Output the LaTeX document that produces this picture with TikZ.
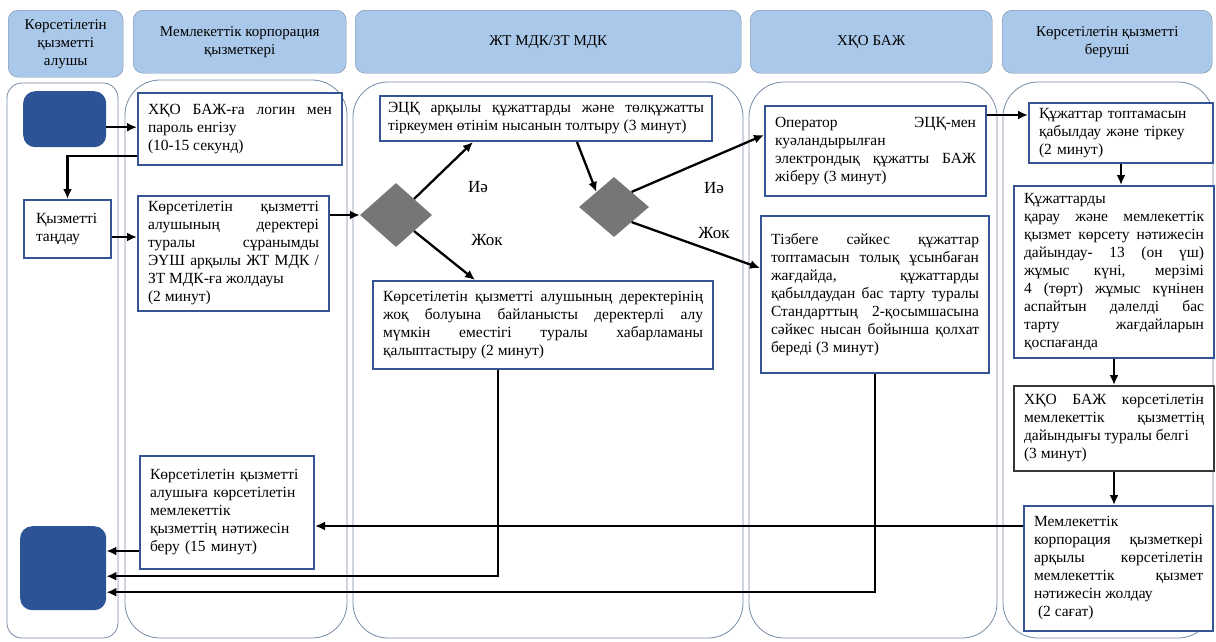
\documentclass[tikz,border=0pt]{standalone}
\usepackage{fontspec}
\setmainfont{Liberation Serif}
\usepackage{tikz}
\usetikzlibrary{shapes.geometric, arrows.meta}
\definecolor{headblue}{RGB}{170,201,234}
\definecolor{laneline}{RGB}{118,138,164}
\definecolor{boxblue}{RGB}{52,84,150}
\definecolor{termblue}{RGB}{44,83,150}
\definecolor{choicegray}{RGB}{118,118,118}
\definecolor{boxgray}{RGB}{55,55,55}

\begin{document}
\begin{tikzpicture}[x=1pt, y=-1pt, >={Latex[length=10pt,width=9pt]},
    head/.style={draw=laneline, fill=headblue, rounded corners=10pt, anchor=north west, align=center, inner sep=2pt, font=\fontsize{15}{18}\selectfont},
    lane/.style={draw=laneline, line width=0.8pt},
    stepbox/.style={draw=boxblue, fill=white, line width=2pt, anchor=north west, align=justify, inner xsep=10pt, inner ysep=4pt, font=\fontsize{15.5}{18}\selectfont},
    terminal/.style={fill=termblue, rounded corners=12pt, anchor=north west},
    choice/.style={diamond, fill=choicegray, inner sep=0pt},
    answer/.style={font=\fontsize{17}{18}\selectfont},
    flow/.style={->, line width=2.3pt}]
    \useasboundingbox (0,0) rectangle (1216,641);
    % swimlanes
    \draw[lane, rounded corners=15pt] (7,83) rectangle (118,638);
    \draw[lane, rounded corners=35pt] (125,80) rectangle (347,638);
    \draw[lane, rounded corners=35pt] (353,82) rectangle (743,638);
    \draw[lane, rounded corners=35pt] (749,82) rectangle (997,638);
    \draw[lane, rounded corners=35pt] (1003,82) rectangle (1213,638);
    \node[head, minimum width=115pt, minimum height=67pt] (h1) at (8,10) {Көрсетілетін\\қызметті\\алушы};
    \node[head, minimum width=213pt, minimum height=63pt] (h2) at (133,10) {Мемлекеттік корпорация\\қызметкері};
    \node[head, minimum width=386pt, minimum height=63pt] (h3) at (355,10) {ЖТ МДК/ЗТ МДК};
    \node[head, minimum width=242pt, minimum height=63pt] (h4) at (750,10) {ХҚО БАЖ};
    \node[head, minimum width=210pt, minimum height=63pt] (h5) at (1002,10) {Көрсетілетін қызметті\\беруші};
    % lane 1
    \node[terminal, minimum width=83pt, minimum height=56pt] (10) at (23,91) {};
    \node[stepbox, align=left, inner xsep=12pt, minimum width=87pt, minimum height=58pt, text width=63pt] (11) at (23,199) {Қызметті\\таңдау};
    \node[terminal, minimum width=86pt, minimum height=84pt] (12) at (20,526) {};
    % lane 2
    \node[stepbox, minimum width=204pt, minimum height=72pt, text width=184pt] (20) at (137,92) {ХҚО БАЖ-ға логин мен\linebreak пароль енгізу\\(10-15 секунд)};
    \node[stepbox, minimum width=191pt, minimum height=115pt, text width=171pt] (21) at (137,195) {Көрсетілетін қызметті\linebreak алушының деректері\linebreak туралы сұранымды\linebreak ЭҮШ арқылы ЖТ МДК /\linebreak ЗТ МДК-ға жолдауы\\(2 минут)};
    \node[stepbox, align=left, minimum width=174pt, minimum height=113pt, text width=154pt] (22) at (139,455) {Көрсетілетін қызметті\\алушыға көрсетілетін\\мемлекеттік\\қызметтің нәтижесін\\беру (15 минут)};
    % lane 3
    \node[stepbox, inner xsep=8pt, minimum width=332pt, minimum height=45pt, text width=316pt] (30) at (379,95) {ЭЦҚ арқылы құжаттарды және төлқұжатты\linebreak тіркеумен өтінім нысанын толтыру (3 минут)};
    \node[choice, minimum width=72pt, minimum height=64pt] (31) at (396,215) {};
    \node[choice, minimum width=70pt, minimum height=60pt] (32) at (614,207) {};
    \node[stepbox, minimum width=340pt, minimum height=88pt, text width=320pt] (33) at (372,280) {Көрсетілетін қызметті алушының деректерінің\linebreak жоқ болуына байланысты деректерлі алу\linebreak мүмкін еместігі туралы хабарламаны\linebreak қалыптастыру (2 минут)};
    \node[answer] (y1) at (478,187) {Иә};
    \node[answer] (n1) at (487,240) {Жок};
    \node[answer] (y2) at (714,188) {Иә};
    \node[answer] (n2) at (714,233) {Жок};
    % lane 4
    \node[stepbox, minimum width=221pt, minimum height=90pt, text width=201pt] (40) at (764,105) {Оператор ЭЦҚ-мен\linebreak куәландырылған\\электрондық құжатты БАЖ\linebreak жіберу (3 минут)};
    \node[stepbox, minimum width=228pt, minimum height=157pt, text width=208pt] (41) at (760,215) {Тізбеге сәйкес құжаттар\linebreak топтамасын толық ұсынбаған\linebreak жағдайда, құжаттарды\linebreak қабылдаудан бас тарту туралы\linebreak Стандарттың 2-қосымшасына\linebreak сәйкес нысан бойынша қолхат\linebreak береді (3 минут)};
    % lane 5
    \node[stepbox, align=left, minimum width=184pt, minimum height=60pt, text width=164pt] (50) at (1028,102) {Құжаттар топтамасын\\қабылдау және тіркеу\\(2 минут)};
    \node[stepbox, minimum width=200pt, minimum height=172pt, text width=180pt] (51) at (1013,185) {Құжаттарды\\қарау және мемлекеттік\linebreak қызмет көрсету нәтижесін\linebreak дайындау- 13 (он үш)\linebreak жұмыс күні, мерзімі\linebreak 4 (төрт) жұмыс күнінен\linebreak аспайтын дәлелді бас\linebreak тарту жағдайларын\linebreak қоспағанда};
    \node[stepbox, draw=boxgray, minimum width=200pt, minimum height=85pt, text width=180pt] (52) at (1013,385) {ХҚО БАЖ көрсетілетін\linebreak мемлекеттік қызметтің\linebreak дайындығы туралы белгі\\(3 минут)};
    \node[stepbox, minimum width=189pt, minimum height=125pt, text width=169pt] (53) at (1023,505) {Мемлекеттік\\корпорация қызметкері\linebreak арқылы көрсетілетін\linebreak мемлекеттік қызмет\linebreak нәтижесін жолдау\\\hspace*{4pt}(2 сағат)};
    % connectors
    \draw[flow] ([yshift=-8pt]10.east) -- ([yshift=-8pt]10.east -| 20.west);
    \draw[flow] ([yshift=10pt]20.south west) -| (11.north);
    \draw[flow] ([yshift=-8pt]11.east) -- ([yshift=-8pt]11.east -| 21.west);
    \draw[flow] (21.east |- 31.west) -- (31.west);
    \draw[flow] (31.north east) -- ([xshift=94pt]30.south west);
    \draw[flow] (31.south east) -- ([xshift=103pt]33.north west);
    \draw[flow] ([xshift=198pt]30.south west) -- (32.north west);
    \draw[flow] (32.north east) -- ([yshift=-30pt]40.north west);
    \draw[flow] (32.south east) -- ([yshift=-53pt]41.north west);
    \draw[flow] ([yshift=-10pt]40.north east) -- ([yshift=-10pt]40.north east -| 50.west);
    \draw[flow] (50.south) -- (50.south |- 51.north);
    \draw[flow] (51.south) -- (51.south |- 52.north);
    \draw[flow] (52.south) -- (52.south |- 53.north);
    \draw[flow] ([yshift=-21pt]53.north west) -- ([yshift=-21pt]53.north west -| 22.east);
    \draw[flow] ([yshift=19pt]22.south west) -- ([yshift=19pt]22.south west -| 12.east);
    \draw[flow] ([xshift=126pt]33.south west) |- ([yshift=-8pt]12.east);
    \draw[flow] (41.south) |- ([yshift=-24pt]12.east);
\end{tikzpicture}
\end{document}
